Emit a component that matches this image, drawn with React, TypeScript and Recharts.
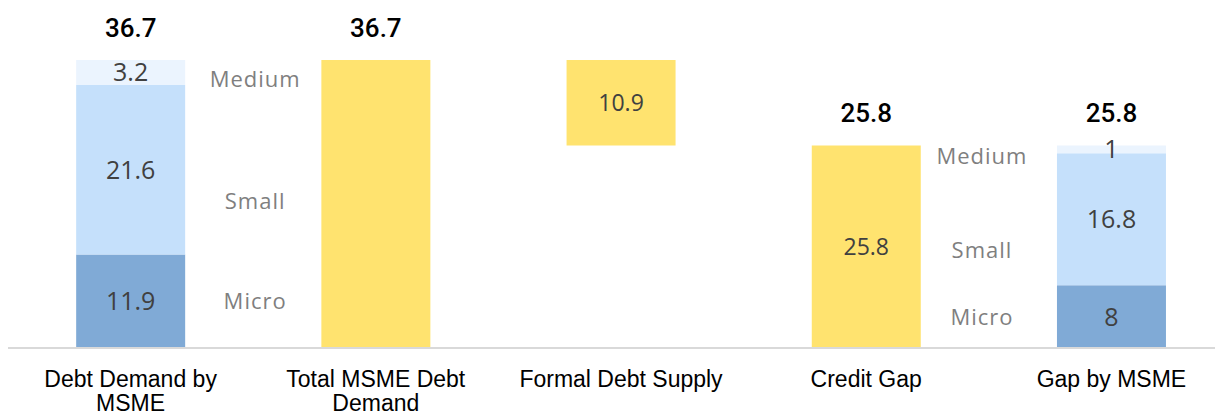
import React from 'react';
import { BarChart, Bar, XAxis, YAxis, LabelList } from 'recharts';

const categories = ['Debt Demand by MSME', 'Total MSME Debt Demand', 'Formal Debt Supply', 'Credit Gap', 'Gap by MSME'];
const offsetValues = [0, 0, 25.8, 0, 0];
const yellowValues = [0, 36.7, 10.9, 25.8, 0];
const microValues = [11.9, 0, 0, 0, 8];
const smallValues = [21.6, 0, 0, 0, 16.8];
const mediumValues = [3.2, 0, 0, 0, 1];
const totalValues = [36.7, 36.7, null, 25.8, 25.8];
const yellowLabelValues = [null, null, 10.9, 25.8, null];
// which side of the stacked bar the segment names go
const segmentNameSides = ['right', null, null, null, 'left'];

const NUM_FONT = '"Open Sans", sans-serif';
const TOTAL_FONT = 'Roboto, "Open Sans", sans-serif';
const AXIS_FONT = '"Liberation Sans", Arial, sans-serif';

const data = categories.map((name, i) => ({
  name,
  base: offsetValues[i],
  yellow: yellowValues[i],
  micro: microValues[i],
  small: smallValues[i],
  medium: mediumValues[i],
  total: totalValues[i],
  yellowLabel: yellowLabelValues[i],
  nameSide: segmentNameSides[i],
}));

const innerLabel = (size: number) => (props: any) => {
  const { x, y, width, height, value } = props;
  if (value == null || value === 0) return null;
  return (
    <text x={x + width / 2} y={y + height / 2} dy={size * 0.36} textAnchor="middle" fill="#404040" fontSize={size} fontFamily={NUM_FONT}>
      {value}
    </text>
  );
};

const totalLabel = (props: any) => {
  const { x, y, width, value } = props;
  if (value == null) return null;
  return (
    <text x={x + width / 2} y={y - 23} textAnchor="middle" fill="#000" fontSize={26} fontWeight={500} fontFamily={TOTAL_FONT}>
      {value}
    </text>
  );
};

const segmentName = (name: string, shift: number) => (props: any) => {
  const { x, y, width, height, value } = props;
  if (!value) return null;
  const cx = value === 'right' ? x + width + 70 : x - 75;
  return (
    <text x={cx} y={y + height / 2 + shift + 7} textAnchor="middle" fill="#7F7F7F" fontSize={22} letterSpacing={1} fontFamily={NUM_FONT}>
      {name}
    </text>
  );
};

// wrap tick text to the category width
let ctx: CanvasRenderingContext2D | null = null;
const wrapText = (str: string, maxWidth: number) => {
  if (!ctx) {
    ctx = document.createElement('canvas').getContext('2d');
  }
  if (!ctx) return [str];
  ctx.font = '23px "Liberation Sans", Arial, sans-serif';
  const words = str.split(' ');
  const lines: string[] = [];
  let line = '';
  words.forEach((w) => {
    const test = line ? line + ' ' + w : w;
    if (line && ctx!.measureText(test).width > maxWidth) {
      lines.push(line);
      line = w;
    } else {
      line = test;
    }
  });
  if (line) lines.push(line);
  return lines;
};

const CategoryTick = (props: any) => {
  const { x, y, payload } = props;
  const lines = wrapText(payload.value, 235);
  return (
    <text x={x} y={y + 31} textAnchor="middle" fontSize={23} fontFamily={AXIS_FONT} fill="#000">
      {lines.map((l, i) => (
        <tspan key={i} x={x} dy={i === 0 ? 0 : 24}>
          {l}
        </tspan>
      ))}
    </text>
  );
};

export default function App() {
  return (
    <div style={{ position: 'absolute', left: 0, top: 0, width: 1215, height: 414, overflow: 'hidden', background: '#fff' }}>
      <BarChart width={1234} height={414} data={data} margin={{ top: 34, right: 0, bottom: 6, left: 8 }} barCategoryGap="27.8%">
        <XAxis dataKey="name" interval={0} tickLine={false} axisLine={{ stroke: '#D9D9D9', strokeWidth: 2 }} tick={<CategoryTick />} height={60} />
        <YAxis hide domain={[0, 40]} />
        <Bar dataKey="base" stackId="a" fill="transparent" isAnimationActive={false} />
        <Bar dataKey="yellow" stackId="a" fill="#FFE36F" isAnimationActive={false}>
          <LabelList dataKey="yellowLabel" content={innerLabel(23)} />
          <LabelList dataKey="total" content={totalLabel} />
        </Bar>
        <Bar dataKey="micro" stackId="a" fill="#80AAD6" isAnimationActive={false}>
          <LabelList dataKey="micro" content={innerLabel(25)} />
          <LabelList dataKey="nameSide" content={segmentName('Micro', 1)} />
        </Bar>
        <Bar dataKey="small" stackId="a" fill="#C5E0FB" isAnimationActive={false}>
          <LabelList dataKey="small" content={innerLabel(25)} />
          <LabelList dataKey="nameSide" content={segmentName('Small', 32)} />
        </Bar>
        <Bar dataKey="medium" stackId="a" fill="#EBF4FE" isAnimationActive={false}>
          <LabelList dataKey="medium" content={innerLabel(25)} />
          <LabelList dataKey="nameSide" content={segmentName('Medium', 8)} />
          <LabelList dataKey="total" content={totalLabel} />
        </Bar>
      </BarChart>
    </div>
  );
}
